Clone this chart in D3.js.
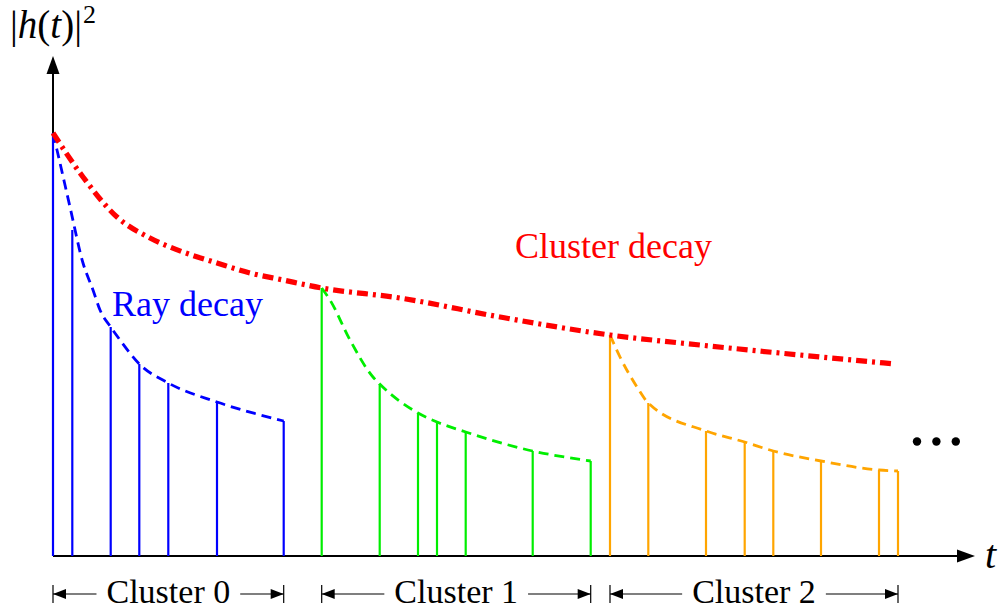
<!DOCTYPE html>
<html>
<head>
<meta charset="utf-8">
<script src="https://cdn.jsdelivr.net/npm/d3@7"></script>
<style>
  body { margin: 0; background: #fff; }
  svg text { font-family: "Liberation Serif", "Times New Roman", serif; }
</style>
</head>
<body>
<div id="chart"></div>
<script>
// ray arrival times and powers, one pair of arrays per cluster
const rayTimes0 = [0, 1.93, 5.77, 8.63, 11.53, 16.4, 23.07];
const rayPower0 = [42.3, 32.6, 22.9, 19.2, 17.3, 15.4, 13.5];
const rayTimes1 = [26.87, 32.67, 36.5, 38.4, 41.27, 47.97, 53.77];
const rayPower1 = [26.8, 17.2, 14.3, 13.4, 12.4, 10.5, 9.5];
const rayTimes2 = [55.7, 59.53, 65.3, 69.17, 72.03, 76.8, 82.6, 84.5];
const rayPower2 = [22.1, 15.3, 12.5, 11.4, 10.5, 9.5, 8.6, 8.5];

// ray decay envelopes (dashed)
const decayT0 = [0, 0.4, 1.7, 3.0, 4.0, 4.7, 5.77, 6.7, 8.63, 11.53, 16.4, 23.07];
const decayP0 = [42.3, 40.6, 34.9, 29.3, 26.6, 24.6, 22.9, 21.6, 19.2, 17.3, 15.4, 13.5];
const decayT1 = [26.87, 27.7, 29.7, 32.0, 32.67, 36.5, 38.4, 41.27, 47.97, 53.77];
const decayP1 = [26.8, 25.6, 21.6, 17.9, 17.2, 14.3, 13.4, 12.4, 10.5, 9.5];
const decayT2 = [55.7, 56.7, 58.4, 59.53, 65.3, 69.17, 72.03, 76.8, 82.6, 84.5];
const decayP2 = [22.1, 19.9, 16.9, 15.3, 12.5, 11.4, 10.5, 9.5, 8.6, 8.5];

// cluster decay envelope (dash-dot)
const clusterT = [0, 3.0, 6.4, 9.7, 13.0, 16.4, 19.7, 23.0, 26.87, 34.7, 44.7, 55.7, 64.7, 74.7, 84.2];
const clusterP = [42.3, 37.9, 33.9, 31.8, 30.4, 29.3, 28.3, 27.6, 26.8, 25.8, 23.9, 22.1, 21.1, 20.1, 19.2];

const clusterNames = ["Cluster 0", "Cluster 1", "Cluster 2"];
const clusterColors = ["#0000ff", "#00ee00", "#ffa500"];

const width = 1000, height = 610;
const axisMaxT = 92.2, axisMaxP = 50;

const svg = d3.select("#chart").append("svg")
  .attr("width", width)
  .attr("height", height);

const x = d3.scaleLinear().domain([0, axisMaxT]).range([53, 975]);
const y = d3.scaleLinear().domain([0, axisMaxP]).range([556, 56]);

// axes with arrowheads
svg.append("line")
  .attr("x1", x(0)).attr("y1", y(0))
  .attr("x2", x(axisMaxT) - 10).attr("y2", y(0))
  .attr("stroke", "black").attr("stroke-width", 2);
svg.append("line")
  .attr("x1", x(0)).attr("y1", y(0))
  .attr("x2", x(0)).attr("y2", y(axisMaxP) + 10)
  .attr("stroke", "black").attr("stroke-width", 2);
svg.append("path")
  .attr("d", "M" + x(axisMaxT) + "," + y(0) + " l-18,-6.5 l0,13 z")
  .attr("fill", "black");
svg.append("path")
  .attr("d", "M" + x(0) + "," + y(axisMaxP) + " l-6.5,18 l13,0 z")
  .attr("fill", "black");

let rays = [
  {t: rayTimes0, p: rayPower0, dt: decayT0, dp: decayP0},
  {t: rayTimes1, p: rayPower1, dt: decayT1, dp: decayP1},
  {t: rayTimes2, p: rayPower2, dt: decayT2, dp: decayP2}
];

let line = d3.line()
  .x(function (d) { return x(d[0]); })
  .y(function (d) { return y(d[1]); })
  .curve(d3.curveMonotoneX);

rays.forEach(function (c, i) {
  let pts = c.t.map(function (t, j) { return [t, c.p[j]]; });
  svg.append("g").selectAll("line")
    .data(pts)
    .enter()
    .append("line")
    .attr("x1", function (d) { return x(d[0]); })
    .attr("x2", function (d) { return x(d[0]); })
    .attr("y1", y(0))
    .attr("y2", function (d) { return y(d[1]); })
    .attr("stroke", clusterColors[i])
    .attr("stroke-width", 2.2);

  let env = c.dt.map(function (t, j) { return [t, c.dp[j]]; });
  svg.append("path")
    .datum(env)
    .attr("d", line)
    .attr("fill", "none")
    .attr("stroke", clusterColors[i])
    .attr("stroke-width", 2.8)
    .style("stroke-dasharray", "10, 6");
});

// cluster decay
svg.append("path")
  .datum(clusterT.map(function (t, j) { return [t, clusterP[j]]; }))
  .attr("d", line)
  .attr("fill", "none")
  .attr("stroke", "#ff0000")
  .attr("stroke-width", 5.2)
  .style("stroke-dasharray", "11, 5, 3, 5");

// labels
svg.append("text")
  .attr("x", 515).attr("y", 258)
  .attr("fill", "#ff0000")
  .style("font-size", "36px")
  .text("Cluster decay");
svg.append("text")
  .attr("x", 112).attr("y", 316)
  .attr("fill", "#0000ff")
  .style("font-size", "36px")
  .text("Ray decay");

// y label |h(t)|^2
let yl = svg.append("text")
  .attr("x", 10).attr("y", 38)
  .style("font-size", "39px");
yl.append("tspan").text("|");
yl.append("tspan").style("font-style", "italic").text("h");
yl.append("tspan").text("(");
yl.append("tspan").style("font-style", "italic").text("t");
yl.append("tspan").text(")|");
yl.append("tspan").attr("dy", -15).attr("dx", 1).style("font-size", "26px").text("2");

// x label
svg.append("text")
  .attr("x", 985).attr("y", 568)
  .style("font-size", "40px")
  .style("font-style", "italic")
  .text("t");

// continuation dots
svg.append("g").selectAll("circle")
  .data([0, 1, 2])
  .enter()
  .append("circle")
  .attr("cx", function (d) { return 917 + d * 19.4; })
  .attr("cy", 441.5)
  .attr("r", 4.2)
  .attr("fill", "black");

// cluster extent markers
let spanY = 594;
let allTimes = [rayTimes0, rayTimes1, rayTimes2];
clusterNames.forEach(function (name, i) {
  let x0 = x(allTimes[i][0]);
  let x1 = x(allTimes[i][allTimes[i].length - 1]);
  let g = svg.append("g");
  let label = g.append("text")
    .attr("x", (x0 + x1) / 2).attr("y", spanY + 9)
    .attr("text-anchor", "middle")
    .style("font-size", "34px")
    .text(name);
  let w = label.node().getComputedTextLength();
  let tl = (x0 + x1) / 2 - w / 2 - 10;
  let tr = (x0 + x1) / 2 + w / 2 + 10;

  [x0, x1].forEach(function (xx) {
    g.append("line")
      .attr("x1", xx).attr("x2", xx)
      .attr("y1", spanY - 9).attr("y2", spanY + 9)
      .attr("stroke", "black").attr("stroke-width", 1.2);
  });
  g.append("line")
    .attr("x1", x0).attr("x2", tl)
    .attr("y1", spanY).attr("y2", spanY)
    .attr("stroke", "black").attr("stroke-width", 1.2);
  g.append("line")
    .attr("x1", tr).attr("x2", x1)
    .attr("y1", spanY).attr("y2", spanY)
    .attr("stroke", "black").attr("stroke-width", 1.2);
  g.append("path")
    .attr("d", "M" + x0 + "," + spanY + " l13,-5 l0,10 z")
    .attr("fill", "black");
  g.append("path")
    .attr("d", "M" + x1 + "," + spanY + " l-13,-5 l0,10 z")
    .attr("fill", "black");
});
</script>
</body>
</html>
